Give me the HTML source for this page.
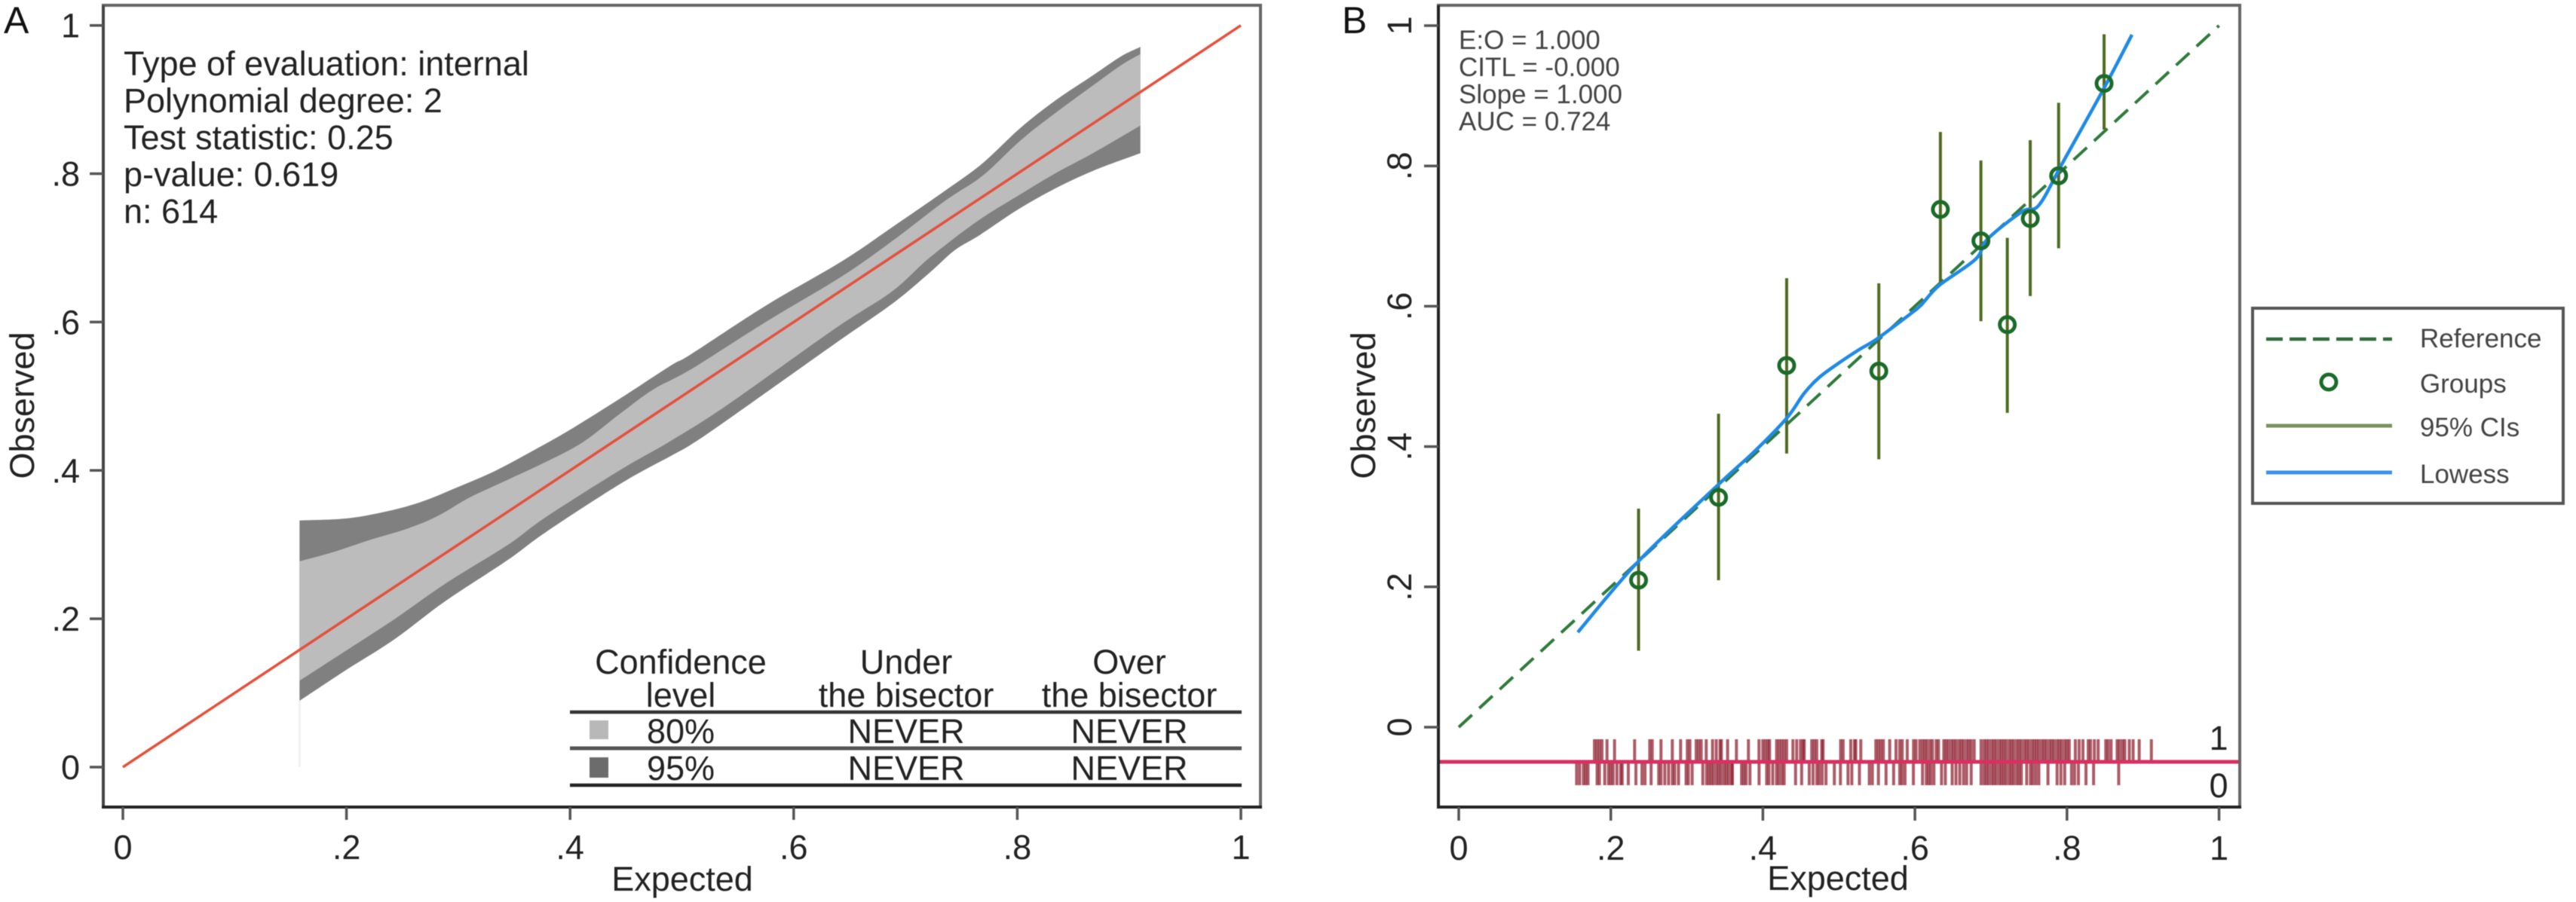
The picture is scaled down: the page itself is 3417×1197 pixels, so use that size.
<!DOCTYPE html>
<html lang="en">
<head>
<meta charset="utf-8">
<title>Calibration plots A and B</title>
<style>
html,body{margin:0;padding:0;background:#fff;}
svg{display:block;filter:blur(0.6px);}
text{font-family:"Liberation Sans",Arial,sans-serif;}
</style>
</head>
<body>
<svg id="root" xmlns="http://www.w3.org/2000/svg" width="3417" height="1197" viewBox="0 0 3417 1197">
  <rect x="0" y="0" width="3417" height="1197" fill="#ffffff"/>
  <g id="panelA">
    <text x="5" y="44" font-size="50" fill="#111">A</text>
    <g id="bandsA"></g>
    <g id="axesA"></g>
    <g font-size="45" fill="#222">
      <text x="164" y="100">Type of evaluation: internal</text>
      <text x="164" y="149">Polynomial degree: 2</text>
      <text x="164" y="198">Test statistic: 0.25</text>
      <text x="164" y="247">p-value: 0.619</text>
      <text x="164" y="296">n: 614</text>
    </g>
    <g font-size="45" fill="#222" text-anchor="middle">
      <text x="903" y="894">Confidence</text>
      <text x="903" y="938">level</text>
      <text x="1202" y="894">Under</text>
      <text x="1202" y="938">the bisector</text>
      <text x="1498" y="894">Over</text>
      <text x="1498" y="938">the bisector</text>
      <line x1="756" x2="1647" y1="945" y2="945" stroke="#333" stroke-width="4.5"/>
      <rect x="782" y="956" width="25" height="25" fill="#b8b8b8"/>
      <text x="903" y="986">80%</text>
      <text x="1202" y="986">NEVER</text>
      <text x="1498" y="986">NEVER</text>
      <line x1="756" x2="1647" y1="993" y2="993" stroke="#555" stroke-width="5"/>
      <rect x="782" y="1005" width="25" height="27" fill="#6c6c6c"/>
      <text x="903" y="1035">95%</text>
      <text x="1202" y="1035">NEVER</text>
      <text x="1498" y="1035">NEVER</text>
      <line x1="756" x2="1647" y1="1042" y2="1042" stroke="#222" stroke-width="4.5"/>
    </g>
  </g>
  <g id="panelB">
    <text x="1780" y="44" font-size="50" fill="#111">B</text>
    <g id="plotB"></g>
    <g id="axesB"></g>
    <g font-size="35" fill="#444">
      <text x="1935" y="65">E:O = 1.000</text>
      <text x="1935" y="101">CITL = -0.000</text>
      <text x="1935" y="137">Slope = 1.000</text>
      <text x="1935" y="173">AUC = 0.724</text>
    </g>
    <g>
      <rect x="2988" y="409" width="412" height="259" fill="#fff" stroke="#555" stroke-width="4"/>
      <line x1="3006" x2="3173" y1="450" y2="450" stroke="#2f6b3a" stroke-width="4.5" stroke-dasharray="22 9"/>
      <text x="3210" y="461" font-size="35" fill="#444">Reference</text>
      <circle cx="3089" cy="507" r="10" fill="none" stroke="#1a6b2a" stroke-width="5"/>
      <text x="3210" y="521" font-size="35" fill="#444">Groups</text>
      <line x1="3006" x2="3173" y1="565" y2="565" stroke="#7d9160" stroke-width="5"/>
      <text x="3210" y="579" font-size="35" fill="#444">95% CIs</text>
      <line x1="3006" x2="3173" y1="627" y2="627" stroke="#3a93e8" stroke-width="5"/>
      <text x="3210" y="641" font-size="35" fill="#444">Lowess</text>
    </g>
  </g>
</svg>
<script>
// ---- shared tick data ----
var tickValues = [0, 0.2, 0.4, 0.6, 0.8, 1];
var tickLabels = ['0', '.2', '.4', '.6', '.8', '1'];

// ---- panel A: band curves (expected, observed) ----
var outerUpperX = [0.158, 0.198, 0.2317, 0.2655, 0.2992, 0.3329, 0.3666, 0.4003, 0.4453, 0.4902, 0.5082, 0.5757, 0.6431, 0.688, 0.7352, 0.7689, 0.8026, 0.8341, 0.8678, 0.8926, 0.9101];
var outerUpperY = [0.3325, 0.335, 0.3434, 0.3569, 0.3773, 0.3993, 0.4264, 0.4551, 0.4975, 0.5415, 0.5567, 0.6228, 0.682, 0.7278, 0.7769, 0.8141, 0.8615, 0.8988, 0.9327, 0.958, 0.9709];
var innerUpperX = [0.158, 0.1868, 0.2205, 0.2542, 0.2812, 0.3104, 0.3441, 0.3778, 0.4115, 0.4453, 0.4745, 0.5082, 0.5757, 0.6431, 0.688, 0.7352, 0.7689, 0.8026, 0.8341, 0.8678, 0.8926, 0.9101];
var innerUpperY = [0.2774, 0.2892, 0.3061, 0.3214, 0.3383, 0.3637, 0.3874, 0.4111, 0.4382, 0.4772, 0.5093, 0.5364, 0.6008, 0.6617, 0.7091, 0.7633, 0.7972, 0.8446, 0.8819, 0.9191, 0.9462, 0.9614];
var innerLowerX = [0.158, 0.198, 0.243, 0.2879, 0.3441, 0.3778, 0.4453, 0.4902, 0.5397, 0.6363, 0.688, 0.7217, 0.7644, 0.8004, 0.8341, 0.8678, 0.9101];
var innerLowerY = [0.1165, 0.1554, 0.1995, 0.2469, 0.2994, 0.3366, 0.401, 0.4399, 0.4873, 0.5906, 0.6414, 0.687, 0.7362, 0.7701, 0.8006, 0.8277, 0.8649];
var outerLowerX = [0.158, 0.198, 0.243, 0.2879, 0.3441, 0.3778, 0.4453, 0.4902, 0.5082, 0.5397, 0.6363, 0.688, 0.7217, 0.7442, 0.7667, 0.8004, 0.8341, 0.8678, 0.9101];
var outerLowerY = [0.0894, 0.1293, 0.1724, 0.2232, 0.2791, 0.3163, 0.3823, 0.4196, 0.4348, 0.467, 0.5703, 0.6245, 0.6668, 0.697, 0.7176, 0.7515, 0.7803, 0.8039, 0.8277];
var bisectorValues = [0, 1];

// ---- panel B: groups ----
var groupExpected = [0.2365, 0.3417, 0.4313, 0.5525, 0.6335, 0.6868, 0.7215, 0.7517, 0.789, 0.8488];
var groupObserved = [0.2095, 0.3275, 0.5156, 0.5075, 0.738, 0.6932, 0.5738, 0.725, 0.786, 0.9176];
var groupCiLow = [0.109, 0.2095, 0.39, 0.3818, 0.631, 0.5787, 0.448, 0.6145, 0.6826, 0.8518];
var groupCiHigh = [0.3115, 0.4468, 0.640, 0.6326, 0.8484, 0.8077, 0.6975, 0.8367, 0.890, 0.9876];
var lowessX = [0.1566, 0.2365, 0.3427, 0.388, 0.4313, 0.454, 0.474, 0.4996, 0.5248, 0.5501, 0.5959, 0.6088, 0.6316, 0.6797, 0.6958, 0.7407, 0.7633, 0.7953, 0.8468, 0.8855];
var lowessY = [0.1353, 0.2366, 0.347, 0.392, 0.4404, 0.4755, 0.4984, 0.5188, 0.537, 0.5535, 0.5907, 0.6025, 0.6294, 0.667, 0.696, 0.7347, 0.7444, 0.8066, 0.907, 0.987];
var referenceValues = [0, 1];

// ---- panel B: rug of predicted risks ----
var rugEvents = [0.1785,0.1818,0.1851,0.1884,0.195,0.2049,0.2313,0.2512,0.2545,0.266,0.2809,0.2918,0.3007,0.304,0.3123,0.3156,0.3189,0.3255,0.3338,0.3387,0.3437,0.3454,0.3536,0.3652,0.381,0.3949,0.3999,0.4032,0.4065,0.4088,0.4181,0.4214,0.4247,0.428,0.4313,0.4395,0.4445,0.4495,0.4528,0.4544,0.4643,0.4676,0.4709,0.4775,0.4792,0.5023,0.5056,0.5156,0.5205,0.5222,0.5288,0.5486,0.5519,0.5552,0.5585,0.5668,0.5751,0.58,0.5833,0.5899,0.5982,0.6015,0.6064,0.610,0.613,0.616,0.620,0.623,0.628,0.631,0.638,0.641,0.644,0.648,0.651,0.654,0.658,0.661,0.664,0.668,0.671,0.674,0.678,0.687,0.691,0.694,0.697,0.701,0.704,0.707,0.711,0.714,0.717,0.720,0.724,0.727,0.730,0.734,0.737,0.740,0.744,0.747,0.750,0.754,0.757,0.760,0.763,0.767,0.770,0.773,0.777,0.780,0.783,0.787,0.790,0.793,0.797,0.800,0.803,0.811,0.816,0.821,0.828,0.831,0.836,0.841,0.851,0.854,0.858,0.866,0.869,0.873,0.876,0.882,0.887,0.895,0.911];
var rugNonEvents = [0.155,0.159,0.164,0.167,0.170,0.182,0.185,0.192,0.197,0.200,0.203,0.208,0.213,0.215,0.223,0.233,0.241,0.245,0.253,0.263,0.266,0.271,0.276,0.281,0.284,0.289,0.299,0.302,0.307,0.321,0.326,0.329,0.332,0.335,0.339,0.342,0.345,0.349,0.352,0.355,0.359,0.360,0.372,0.375,0.378,0.383,0.395,0.405,0.408,0.413,0.418,0.421,0.425,0.428,0.443,0.451,0.461,0.466,0.471,0.474,0.478,0.483,0.494,0.502,0.512,0.517,0.527,0.540,0.544,0.552,0.562,0.572,0.580,0.583,0.587,0.598,0.610,0.615,0.618,0.621,0.625,0.635,0.640,0.649,0.654,0.659,0.664,0.668,0.674,0.687,0.691,0.694,0.697,0.701,0.704,0.707,0.711,0.714,0.717,0.720,0.724,0.727,0.730,0.734,0.737,0.740,0.747,0.752,0.755,0.759,0.763,0.775,0.787,0.792,0.797,0.806,0.810,0.815,0.825,0.835,0.868];

// ---- axis functions ----
function xA(v) { return 163 + v * 1483; }
function yA(v) { return 1018 - v * 984.3; }
function xB(v) { return 1935 + v * 1008.5; }
function yB(v) { return 965 - v * 931; }

var SVGNS = 'http://www.w3.org/2000/svg';
function make(tag, attrs, parent) {
  var el = document.createElementNS(SVGNS, tag);
  for (var k in attrs) { el.setAttribute(k, attrs[k]); }
  parent.appendChild(el);
  return el;
}
function pointsOf(xs, ys, fx, fy) {
  var out = [];
  for (var i = 0; i < xs.length; i++) { out.push([fx(xs[i]), fy(ys[i])]); }
  return out;
}
function curveSegments(p) {
  var s = '';
  for (var i = 0; i < p.length - 1; i++) {
    var a = p[Math.max(i - 1, 0)], b = p[i], c = p[i + 1], d = p[Math.min(i + 2, p.length - 1)];
    var c1x = b[0] + (c[0] - a[0]) / 6, c1y = b[1] + (c[1] - a[1]) / 6;
    var c2x = c[0] - (d[0] - b[0]) / 6, c2y = c[1] - (d[1] - b[1]) / 6;
    s += ' C' + c1x.toFixed(1) + ' ' + c1y.toFixed(1) + ' ' + c2x.toFixed(1) + ' ' + c2y.toFixed(1) + ' ' + c[0].toFixed(1) + ' ' + c[1].toFixed(1);
  }
  return s;
}
function bandPath(upper, lower) {
  var rev = lower.slice().reverse();
  return 'M' + upper[0][0] + ' ' + upper[0][1] + curveSegments(upper) + ' L' + rev[0][0] + ' ' + rev[0][1] + curveSegments(rev) + ' Z';
}

// ---- panel A marks ----
var bandsA = document.getElementById('bandsA');
var guide = make('line', {x1: xA(0.158), x2: xA(0.158), y1: yA(0.0894), y2: yA(0), stroke: '#f1f1f1', 'stroke-width': 3}, bandsA);


var outerBand = make('path', {d: bandPath(pointsOf(outerUpperX, outerUpperY, xA, yA), pointsOf(outerLowerX, outerLowerY, xA, yA)), fill: '#808080'}, bandsA);


var innerBand = make('path', {d: bandPath(pointsOf(innerUpperX, innerUpperY, xA, yA), pointsOf(innerLowerX, innerLowerY, xA, yA)), fill: '#bcbcbc'}, bandsA);


var bisector = make('line', {x1: xA(bisectorValues[0]), y1: yA(bisectorValues[0]), x2: xA(bisectorValues[1]), y2: yA(bisectorValues[1]), stroke: '#e4503c', 'stroke-width': 3.5}, bandsA);



// ---- panel A axes ----
var axesA = document.getElementById('axesA');
var frameA = make('rect', {x: 137, y: 7, width: 1535, height: 1064, fill: 'none', stroke: '#666', 'stroke-width': 4}, axesA);


var leftA = make('line', {x1: 137, x2: 137, y1: 7, y2: 1071, stroke: '#444', 'stroke-width': 4}, axesA);


var bottomA = make('line', {x1: 135, x2: 1674, y1: 1071, y2: 1071, stroke: '#222', 'stroke-width': 4}, axesA);


tickValues.forEach(function (v, i) {
  var xt = make('line', {x1: xA(v), x2: xA(v), y1: 1071, y2: 1088, stroke: '#555', 'stroke-width': 3.5}, axesA);
  
  
  var xl = make('text', {x: xA(v), y: 1140, 'font-size': 45, 'text-anchor': 'middle', fill: '#222'}, axesA);
  
  
  xl.textContent = tickLabels[i];
  var yt = make('line', {x1: 119, x2: 137, y1: yA(v), y2: yA(v), stroke: '#555', 'stroke-width': 3.5}, axesA);
  
  
  var yl = make('text', {x: 106, y: yA(v) + 16, 'font-size': 45, 'text-anchor': 'end', fill: '#222'}, axesA);
  
  
  yl.textContent = tickLabels[i];
});
var xTitleA = make('text', {x: 905, y: 1182, 'font-size': 45, 'text-anchor': 'middle', fill: '#222'}, axesA);


xTitleA.textContent = 'Expected';
var yTitleA = make('text', {x: 45, y: 538, 'font-size': 45, 'text-anchor': 'middle', fill: '#222', transform: 'rotate(-90 45 538)'}, axesA);


yTitleA.textContent = 'Observed';

// ---- panel B marks ----
var plotB = document.getElementById('plotB');
var referenceLine = make('line', {x1: xB(referenceValues[0]), y1: yB(referenceValues[0]), x2: xB(referenceValues[1]), y2: yB(referenceValues[1]), stroke: '#2f7a3a', 'stroke-width': 4, 'stroke-dasharray': '24 13'}, plotB);


groupExpected.forEach(function (v, i) {
  var ci = make('line', {x1: xB(v), x2: xB(v), y1: yB(groupCiLow[i]), y2: yB(groupCiHigh[i]), stroke: '#4f6b22', 'stroke-width': 4}, plotB);
  
  
});
var lowessLine = make('path', {d: (function () { var p = pointsOf(lowessX, lowessY, xB, yB); return 'M' + p[0][0] + ' ' + p[0][1] + curveSegments(p); })(), fill: 'none', stroke: '#1f8ae6', 'stroke-width': 4.5}, plotB);


groupExpected.forEach(function (v, i) {
  var dot = make('circle', {cx: xB(v), cy: yB(groupObserved[i]), r: 10, fill: 'none', stroke: '#1a6b2a', 'stroke-width': 5}, plotB);
  
  
});
rugEvents.forEach(function (v) {
  var tick = make('line', {x1: xB(v), x2: xB(v), y1: 981, y2: 1011, stroke: '#8c1c2c', 'stroke-width': 4, 'stroke-opacity': 0.72}, plotB);
  
  
});
rugNonEvents.forEach(function (v) {
  var tick = make('line', {x1: xB(v), x2: xB(v), y1: 1011, y2: 1042, stroke: '#8c1c2c', 'stroke-width': 4, 'stroke-opacity': 0.72}, plotB);
  
  
});
var rugLine = make('line', {x1: 1908, x2: 2971, y1: 1011, y2: 1011, stroke: '#d92f62', 'stroke-width': 5}, plotB);



// ---- panel B axes ----
var axesB = document.getElementById('axesB');
var frameB = make('rect', {x: 1908, y: 7, width: 1063, height: 1064, fill: 'none', stroke: '#666', 'stroke-width': 4}, axesB);


var leftB = make('line', {x1: 1908, x2: 1908, y1: 7, y2: 1071, stroke: '#222', 'stroke-width': 4}, axesB);


var bottomB = make('line', {x1: 1906, x2: 2973, y1: 1071, y2: 1071, stroke: '#222', 'stroke-width': 4}, axesB);


tickValues.forEach(function (v, i) {
  var xt = make('line', {x1: xB(v), x2: xB(v), y1: 1071, y2: 1089, stroke: '#555', 'stroke-width': 3.5}, axesB);
  
  
  var xl = make('text', {x: xB(v), y: 1141, 'font-size': 45, 'text-anchor': 'middle', fill: '#222'}, axesB);
  
  
  xl.textContent = tickLabels[i];
  var yt = make('line', {x1: 1889, x2: 1908, y1: yB(v), y2: yB(v), stroke: '#555', 'stroke-width': 3.5}, axesB);
  
  
  var yl = make('text', {x: 1872, y: yB(v), 'font-size': 45, 'text-anchor': 'middle', fill: '#222', transform: 'rotate(-90 1872 ' + yB(v) + ')'}, axesB);
  
  
  yl.textContent = tickLabels[i];
});
var xTitleB = make('text', {x: 2438, y: 1181, 'font-size': 45, 'text-anchor': 'middle', fill: '#222'}, axesB);


xTitleB.textContent = 'Expected';
var yTitleB = make('text', {x: 1824, y: 538, 'font-size': 45, 'text-anchor': 'middle', fill: '#222', transform: 'rotate(-90 1824 538)'}, axesB);


yTitleB.textContent = 'Observed';
var rugLabelEvent = make('text', {x: 2943, y: 995, 'font-size': 45, 'text-anchor': 'middle', fill: '#222'}, axesB);


rugLabelEvent.textContent = '1';
var rugLabelNon = make('text', {x: 2943, y: 1058, 'font-size': 45, 'text-anchor': 'middle', fill: '#222'}, axesB);


rugLabelNon.textContent = '0';
</script>
</body>
</html>
